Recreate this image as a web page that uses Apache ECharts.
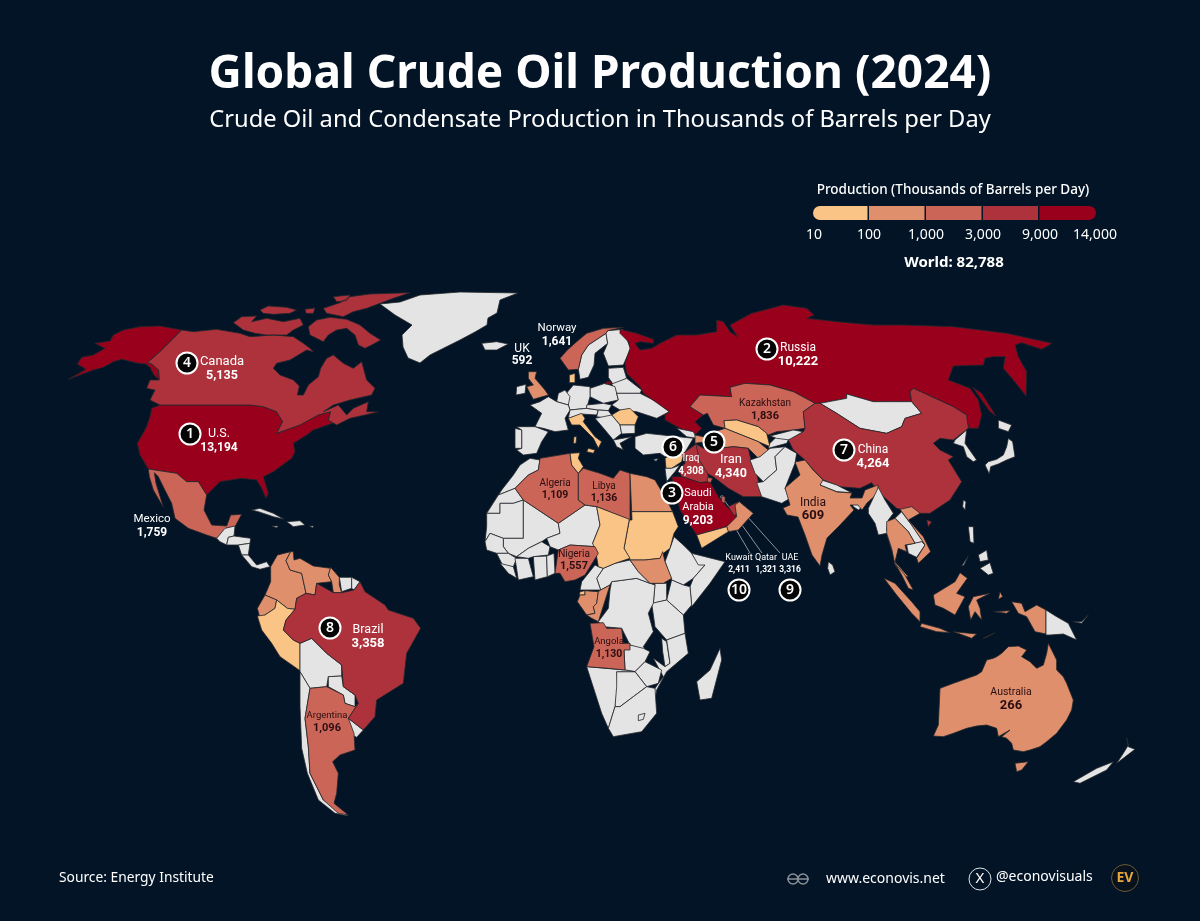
<!DOCTYPE html>
<html>
<head>
<meta charset="utf-8">
<style>html,body{margin:0;padding:0;background:#021426}#main{width:1200px;height:921px}</style>
<script src="https://cdn.jsdelivr.net/npm/echarts@6/dist/echarts.min.js"></script>
</head>
<body>
<div id="main"></div>
<script>
// production figures, thousands of barrels per day
var labelledNames = ['United States','Russia','Saudi Arabia','Canada','Iran','Iraq','China','Brazil','UAE','Kuwait','Kazakhstan','Mexico','Norway','Nigeria','Qatar','Libya','Angola','Algeria','Argentina','India','UK','Australia'];
var labelledValues = [13194,10222,9203,5135,4340,4308,4264,3358,3316,2411,1836,1759,1641,1557,1321,1136,1130,1109,1096,609,592,266];
var labelledTexts = ['U.S.','Russia','Saudi\nArabia','Canada','Iran','Iraq','China','Brazil','UAE','Kuwait','Kazakhstan','Mexico','Norway','Nigeria','Qatar','Libya','Angola','Algeria','Argentina','India','UK','Australia'];
// not printed on the map, estimated from the colour class
var otherNames = ['Venezuela','Colombia','Ecuador','Guyana','Peru','Oman','Egypt','Azerbaijan','Turkmenistan','Indonesia','Malaysia','Thailand','Vietnam','South Sudan','Congo','Gabon','Equatorial Guinea','Uzbekistan','Chad','Sudan','Tunisia','Italy','Romania','Denmark','Yemen','Syria'];
var otherValues = [800,770,470,600,90,990,560,580,220,560,500,200,180,150,260,210,90,60,90,60,40,90,60,60,60,90];
var legendTicks = [10,100,1000,3000,9000,14000];
var legendColors = ['#f9c486','#e08f6c','#cb6558','#ae323c','#99001c'];
var worldTotal = 82788;
var darkLabels = ['Kazakhstan','Nigeria','Libya','Angola','Algeria','Argentina','India','Australia'];
var rankNumbers = [1,2,3,4,5,6,7,8,9,10];

// where the labels and rank badges sit, and how big their text is
var labelCenters = {'United States':[219,441],'Russia':[798,355],'Saudi Arabia':[698,507],'Canada':[222,369],'Iran':[731,467],'Iraq':[691,465],'China':[873,457],'Brazil':[368,637],'UAE':[790,564],'Kuwait':[739,564],'Kazakhstan':[765,410],'Mexico':[152,526],'Norway':[557,335],'Nigeria':[574,560],'Qatar':[766,564],'Libya':[604,492],'Angola':[609,648],'Algeria':[555,489],'Argentina':[327,722],'India':[813,509],'UK':[522,355],'Australia':[1011,699]};
var labelSizes = {'United States':[12.5,12,14],'Russia':[12,13,14],'Saudi Arabia':[11,12,14],'Canada':[13,12.5,14],'Iran':[13,12.5,14],'Iraq':[10,10,13],'China':[12,13,14],'Brazil':[12.5,13,14],'UAE':[9,8.5,12],'Kuwait':[9,8.5,12],'Kazakhstan':[10,11,13],'Mexico':[11.5,12,13],'Norway':[11.5,12,13],'Nigeria':[10,11,12],'Qatar':[9,8.5,12],'Libya':[10,10.5,12],'Angola':[9.5,10.5,12],'Algeria':[10,10.5,12],'Argentina':[9.5,11,13],'India':[12,13,13],'UK':[12,12,12],'Australia':[10.5,13,13]};
var badgeCenters = [[190,434],[767,349],[672,493],[187,363],[714,442],[673,447],[844,450],[330,628],[790,590],[739,590]];
var leaderLines = [[708,482,750,553],[722,497,762,553],[737,505,780,553]];

var shapes = {};
function trace(ox, oy, scale, block) {
    for (var name in block) {
        if (!shapes[name]) shapes[name] = [];
        block[name].forEach(function (ring) {
            var pts = ring.trim().split(/\s+/).map(function (p) {
                var xy = p.split(',');
                return [ox + xy[0] / scale, oy + xy[1] / scale];
            });
            pts.push(pts[0].slice());
            shapes[name].push([pts]);
        });
    }
}

// North America
trace(60, 280, 3, {
    'United States': [
        '365,150 300,138 240,140 190,150 160,165 150,183 105,190 135,205 100,225 65,232 52,252 78,268 25,298 100,270 130,262 160,245 185,238 235,250 258,252 270,262 282,285 298,300 296,270 275,252 262,248 300,215',
        '300,375 570,375 610,380 650,395 668,425 650,460 720,435 775,405 812,395 805,420 830,425 760,450 740,465 700,490 705,515 695,535 640,575 610,590 625,640 618,655 605,625 590,600 545,595 480,605 440,645 415,605 380,605 350,580 265,567 240,525 232,490 260,440 270,410 275,385'
    ],
    'Canada': [
        '365,150 400,155 470,148 540,160 570,170 640,165 700,170 730,190 750,205 760,215 740,210 690,240 650,250 640,265 660,285 700,300 718,318 712,345 730,345 745,315 775,290 782,265 800,235 820,225 850,250 880,265 905,245 920,300 945,325 935,345 870,360 820,375 790,395 835,375 860,405 880,385 925,365 920,395 955,395 915,405 870,415 830,435 805,420 812,395 775,405 720,435 650,460 668,425 650,395 610,380 570,375 300,375 270,360 285,330 260,325 270,300 298,300 296,270 275,252 262,248 300,215',
        '770,120 810,112 860,118 900,135 930,160 962,180 935,195 915,205 895,195 885,165 860,145 830,150 805,165 790,185 770,175 750,165 745,140',
        '520,128 545,110 590,108 575,125 620,115 670,125 720,115 730,135 700,150 680,165 620,165 585,160 550,150',
        '600,90 625,78 680,82 710,90 690,100 640,103 610,100',
        '735,88 765,84 760,100 738,100',
        '790,85 840,68 870,50 930,42 1050,38 1000,55 960,70 920,85 880,95 850,110 800,100',
        '820,50 870,45 860,62 830,65'
    ],
    'Mexico': ['265,567 350,580 380,605 415,605 440,645 432,690 455,735 500,738 512,705 545,703 525,740 498,745 470,775 440,765 385,745 345,715 335,670 312,625 295,590 283,578 288,610 310,682 280,630 268,590'],
    'Guatemala': ['470,775 495,745 525,738 522,768 505,772 500,795 480,785'],
    'Honduras': ['505,772 522,768 572,775 570,790 535,795 500,795'],
    'Nicaragua': ['535,795 570,790 565,825 545,825'],
    'Panama': ['545,825 565,825 590,855 620,845 630,860 600,868 575,860'],
    'Cuba': ['575,690 600,685 640,700 672,718 640,710 595,695'],
    'Hispaniola': ['680,725 720,722 735,735 700,740'],
    'Jamaica': ['635,738 655,738 650,743'],
    'Puerto Rico': ['748,738 762,738 758,743']
});
trace(0, 0, 1, {
    'Greenland': ['380,304 400,302 420,295 460,292 518,293 500,300 497,313 488,318 487,325 475,332 460,340 430,355 420,363 408,358 403,347 402,335 412,325 395,315']
});

// South America
trace(200, 540, 3, {
    'Colombia': ['272,35 232,45 212,80 212,125 195,165 230,180 262,205 285,208 290,175 318,160 305,100 270,90 258,62'],
    'Venezuela': ['272,35 258,62 270,90 305,100 318,160 345,165 350,130 395,125 385,105 392,85 340,78 300,55 282,60 280,35'],
    'Guyana': ['392,82 418,112 418,135 425,158 400,158 395,125 385,105'],
    'Suriname': ['418,112 455,112 455,145 425,155'],
    'French Guiana': ['455,112 480,125 462,150 455,145'],
    'Ecuador': ['195,165 230,180 225,205 195,225 180,235 172,205'],
    'Peru': ['172,228 195,225 225,205 230,180 262,205 285,208 258,240 250,270 280,300 300,310 300,392 240,350 215,310 185,270'],
    'Bolivia': ['300,310 335,295 380,340 425,375 425,408 385,410 380,440 330,445 300,395'],
    'Paraguay': ['385,410 425,408 430,440 465,465 465,500 435,490 430,465 385,440'],
    'Chile': ['300,395 330,445 315,535 325,620 330,700 370,780 445,828 405,820 355,780 322,700 305,625 300,500'],
    'Uruguay': ['445,535 490,570 470,592 445,580'],
    'Argentina': ['330,445 380,440 430,465 435,490 465,500 475,490 445,535 462,580 465,630 420,645 398,665 415,700 410,760 402,790 445,825 415,820 370,780 330,700 325,620 315,535'],
    'Brazil': ['285,208 290,175 318,160 345,165 350,130 400,158 425,158 462,150 480,125 495,155 555,195 565,210 640,235 662,265 620,340 610,430 530,480 525,530 490,570 445,535 475,490 465,465 430,440 425,375 380,340 335,295 300,310 280,300 250,270 258,240']
});

// Europe
trace(480, 290, 3, {
    'Iceland': ['5,160 50,155 85,162 50,180 15,180'],
    'Ireland': ['110,290 138,283 135,310 108,315'],
    'UK': ['145,245 170,245 165,265 195,300 205,315 160,328 150,310 140,290 160,285 145,265'],
    'Sweden': ['300,268 295,238 305,195 325,165 378,130 383,160 345,190 342,225 325,262'],
    'Finland': ['383,122 428,118 452,175 430,225 385,228 370,190 383,160 378,130'],
    'Norway': ['240,205 262,180 290,155 320,130 370,115 430,112 383,122 378,130 325,165 305,195 295,238 265,240'],
    'Denmark': ['268,255 285,250 285,278 268,278'],
    'Baltics': ['385,235 430,232 440,265 400,285 385,262'],
    'Belarus': ['395,282 440,265 485,300 480,310 425,310 410,310'],
    'Poland': ['330,295 375,280 405,290 415,330 370,340 330,320'],
    'Germany': ['280,285 330,290 330,320 320,355 270,360 255,315'],
    'Benelux': ['235,310 255,300 270,320 265,345 230,335'],
    'France': ['230,335 265,345 270,360 255,385 265,420 225,425 190,415 165,410 185,370 150,345 180,335 205,320'],
    'Spain': ['110,410 165,410 205,425 185,455 170,490 130,495 110,480 125,475 125,420'],
    'Portugal': ['105,415 125,420 125,475 105,475'],
    'Alps': ['270,360 320,355 355,360 350,375 305,372 265,385'],
    'Czechia': ['320,345 370,340 395,345 385,362 355,360 320,355'],
    'Hungary': ['355,360 385,362 395,375 380,385 350,380'],
    'Ukraine': ['410,310 480,310 530,335 568,365 530,385 500,375 470,365 420,360 395,345 415,330'],
    'Romania': ['395,375 420,360 450,355 475,380 465,405 420,405'],
    'Balkans': ['345,385 395,375 420,405 425,430 400,450 375,420'],
    'Bulgaria': ['420,405 465,405 465,430 425,432'],
    'Greece': ['400,450 455,440 420,460 430,480 410,470'],
    'Italy': [
        '265,385 305,370 315,385 310,395 345,440 365,455 355,475 340,445 300,405 275,405',
        '325,475 345,480 340,490 320,485',
        '282,440 290,440 288,460 280,460'
    ],
    'Russia': ['380,275 395,275 395,282 375,282'],
    'Turkey': ['465,440 500,430 640,445 610,495 555,500 540,490 490,495 465,475'],
    'Cyprus': ['520,508 535,506 528,514'],
    'Syria': ['555,505 580,490 610,495 605,515 575,535 558,535'],
    'Jordan': ['555,535 575,535 600,525 585,545 560,575'],
    'Georgia': ['590,415 640,425 650,445 620,440']
});

// Africa
trace(470, 450, 3, {
    'Morocco': ['180,25 210,30 205,60 175,75 135,115 85,135 50,190 95,120 130,75 150,45'],
    'Western Sahara': ['50,190 85,135 135,115 160,150 130,160 90,160 90,190'],
    'Mauritania': ['50,190 90,190 90,160 130,160 160,150 160,265 100,265 60,250 45,275 50,230'],
    'Mali': ['100,265 160,265 160,150 265,220 270,250 230,265 215,275 175,295 140,320 115,310 100,290'],
    'Niger': ['265,220 345,165 380,170 390,225 368,280 375,290 300,285 265,300 240,290 230,265 270,250'],
    'Senegal': ['45,275 60,250 100,265 100,290 115,310 80,310 50,300'],
    'Guinea': ['80,310 115,310 140,325 130,350 100,350'],
    'Liberia': ['90,340 130,350 140,385 115,370'],
    'Ivory Coast': ['135,325 175,325 190,380 145,390'],
    'Burkina Faso': ['140,320 175,295 215,275 240,290 235,315 190,320 175,325'],
    'Ghana': ['190,320 230,318 232,380 195,390'],
    'Benin': ['230,318 252,310 255,370 232,380'],
    'Ethiopia': ['600,295 612,260 640,285 665,310 685,340 705,345 670,385 640,405 605,390 585,335'],
    'Somalia': ['665,310 765,335 720,400 665,470 660,410 670,385 705,345 685,345'],
    'Kenya': ['605,390 640,405 660,410 665,465 640,495 590,450'],
    'Uganda': ['555,400 590,400 590,450 550,460'],
    'Tanzania': ['545,460 590,450 640,495 645,550 590,570 555,530'],
    'DR Congo': ['425,395 500,385 540,400 555,405 550,460 535,490 550,545 520,590 530,605 480,585 455,535 400,530 385,515 415,475 420,420'],
    'Central African Rep.': ['380,385 400,355 435,340 480,330 505,365 540,400 500,385 425,395 420,405 392,420'],
    'Cameroon': ['335,395 375,345 385,350 400,355 380,385 392,420 345,420 330,420'],
    'Zambia': ['462,600 480,585 520,595 540,605 525,635 495,665 465,660'],
    'Malawi': ['575,565 590,575 600,640 585,650 578,605'],
    'Mozambique': ['590,570 645,550 655,610 590,665 560,720 555,750 560,790 545,770 555,715 580,680 550,625 585,650 600,640'],
    'Zimbabwe': ['495,665 525,635 575,660 565,700 530,710'],
    'Botswana': ['440,665 495,665 530,710 490,740 450,770 435,770 435,710'],
    'Namibia': ['350,650 465,660 495,665 440,665 440,710 435,770 415,835 395,790'],
    'South Africa': ['415,835 435,770 450,770 490,740 530,710 555,715 560,790 515,845 430,860'],
    'Lesotho': ['505,795 525,790 520,808 505,812'],
    'Madagascar': ['750,595 755,630 725,745 690,750 680,695 720,660'],
    'Algeria': ['135,115 175,75 205,60 210,25 300,10 305,45 325,70 325,150 345,165 265,220 160,150'],
    'Tunisia': ['300,10 330,8 325,25 340,50 325,70 305,45'],
    'Libya': ['325,70 340,55 390,70 430,85 450,60 480,70 480,210 380,170 345,165 325,150'],
    'Egypt': ['480,70 530,80 555,90 590,150 608,185 485,185'],
    'Sudan': ['485,185 608,185 625,230 612,250 600,295 580,310 570,325 525,330 480,330 462,295 478,210 486,210'],
    'Chad': ['380,170 478,208 462,295 480,325 435,340 400,355 385,350 378,310 368,280 390,225'],
    'South Sudan': ['480,330 525,330 570,325 578,305 585,335 605,385 580,400 540,400 505,365'],
    'Nigeria': ['255,370 265,300 300,285 375,290 385,310 345,375 315,390 285,395 270,370'],
    'Equatorial Guinea': ['330,425 345,422 345,435 328,435'],
    'Gabon': ['322,455 330,435 345,435 345,422 385,425 380,460 370,470 375,490 350,495'],
    'Congo': ['385,425 392,420 420,405 385,515 365,505 350,495 375,490 370,470 380,460'],
    'Angola': ['360,520 400,518 410,535 455,535 460,580 480,580 480,600 462,600 465,660 415,655 350,650 372,590']
});

// Asia
trace(620, 300, 3, {
    'Russia': [
        '0,88 50,100 100,118 100,130 60,125 45,130 60,150 95,145 120,130 170,105 230,105 290,95 290,60 310,65 330,95 352,110 330,75 395,40 490,15 560,25 582,45 560,55 650,65 760,75 850,75 1000,80 1160,100 1296,130 1265,148 1205,128 1185,135 1195,170 1220,215 1218,288 1180,240 1150,205 1155,170 1120,170 1095,175 1090,195 1000,198 985,240 1050,265 1075,300 1085,345 1075,385 1045,385 1040,345 1000,320 880,265 870,275 875,305 815,305 760,305 680,282 680,295 600,310 585,310 520,275 450,255 375,250 330,262 335,290 240,285 210,320 250,345 225,365 245,385 225,405 180,385 135,360 135,345 148,335 70,280 60,260 20,220 15,190 30,145 25,125 0,100',
        '1058,262 1085,280 1128,348 1110,335'
    ],
    'Kazakhstan': ['210,320 240,285 335,290 330,262 375,250 450,255 520,275 585,310 550,335 555,385 520,390 470,395 445,405 415,380 350,360 312,362 315,385 280,375 262,340 250,345'],
    'Uzbekistan': ['312,362 350,360 415,380 440,400 450,440 415,425 340,395 315,385'],
    'Turkmenistan': ['285,395 315,385 340,395 415,425 445,450 415,475 385,445 340,440 300,445 285,420'],
    'Azerbaijan': ['225,405 250,410 255,425 225,430'],
    'Iran': ['225,430 250,445 280,445 300,445 340,440 385,445 395,490 410,520 425,590 370,590 325,565 280,530 260,520 235,480'],
    'Afghanistan': ['390,480 420,470 450,445 495,440 465,470 470,510 430,545 405,520'],
    'Pakistan': ['430,545 470,510 465,470 495,440 530,460 525,490 495,565 510,595 485,610 425,590 410,548'],
    'Tajikistan': ['450,430 470,410 510,410 500,430 445,445'],
    'Kyrgyzstan': ['450,408 520,390 550,395 510,420 470,415'],
    'Mongolia': ['600,310 680,295 680,282 760,305 815,305 875,305 905,340 855,355 845,380 800,400 720,385 650,340'],
    'Iraq': ['190,460 228,432 238,480 262,520 270,545 240,548 185,530 175,510 195,490'],
    'Saudi Arabia': ['155,530 185,530 240,548 270,545 295,590 325,625 355,655 320,680 230,705 180,630'],
    'Kuwait': ['262,532 278,535 272,548 262,545'],
    'Qatar': ['305,588 315,590 315,610 305,605'],
    'UAE': ['325,620 355,605 355,625 345,650'],
    'Oman': ['350,650 345,615 358,605 400,640 355,690 325,695 320,680'],
    'Yemen': ['230,705 320,680 325,695 245,745'],
    'China': [
        '585,310 600,310 650,340 720,385 800,400 845,380 855,355 905,340 875,305 870,275 880,265 1000,320 1040,345 1045,385 1000,420 960,415 940,430 960,450 1000,470 985,480 1025,545 990,600 930,640 890,640 830,625 775,575 755,548 720,565 660,560 610,540 580,510 555,480 520,450 505,420 550,395 555,385 550,335',
        '920,660 935,665 925,680'
    ],
    'Nepal': ['605,540 650,555 695,578 650,575 600,555'],
    'Bangladesh': ['690,595 720,595 735,615 715,630 700,620'],
    'Korea': ['1005,420 1040,390 1035,430 1070,480 1060,485 1040,470 1030,440 1000,430'],
    'Honshu': ['1095,495 1105,485 1130,478 1150,465 1160,440 1165,415 1178,425 1185,470 1160,480 1135,492 1112,500 1108,522'],
    'Hokkaido': ['1135,360 1175,375 1165,395 1135,385']
});
trace(0, 0, 1, {
    'India': ['795,462 805,460 813,470 823,480 820,485 837,492 852,493 850,498 862,498 865,490 878,485 878,493 867,503 862,510 858,505 850,505 854,510 840,525 827,538 822,555 820,566 812,555 805,535 798,517 787,515 783,508 790,505 788,498 785,488 800,475']
});

// South East Asia and Oceania
trace(780, 480, 3, {
    'Taiwan': ['550,60 558,65 555,90 548,80'],
    'Myanmar': ['265,85 295,22 315,60 340,100 325,120 320,150 335,180 345,225 335,210 320,160 295,165 285,130 265,100'],
    'Laos': ['345,115 365,95 395,135 430,185 405,190 385,155'],
    'Cambodia': ['380,195 425,185 435,195 410,232 385,220'],
    'Thailand': ['320,125 345,115 385,155 405,190 375,195 380,215 355,205 345,245 385,290 375,290 345,255 335,205 320,160'],
    'Vietnam': ['360,88 395,80 420,100 385,120 430,170 452,215 415,250 410,235 435,195 395,135'],
    'Malaysia': ['345,250 375,285 400,330 385,325 365,285'],
    'Indonesia': [
        '312,295 345,310 395,365 420,395 420,425 395,400 350,345',
        '425,430 480,445 510,458 470,455 420,440',
        '520,455 590,462 575,475 540,462',
        '610,475 645,458 620,472',
        '460,345 525,305 540,278 562,295 530,340 555,350 525,405 490,385 465,375',
        '580,350 630,340 590,360 600,385 605,420 585,395 572,420 565,380',
        '660,335 668,350 655,358',
        '640,395 690,392 680,400',
        '695,365 725,370 735,395 770,375 798,390 798,462 765,455 740,410 715,400'
    ],
    'Philippines': [
        '565,140 580,140 582,190 570,185',
        '600,265 630,248 640,280 625,285',
        '545,258 565,228 552,255',
        '595,225 620,210 625,240 600,245'
    ],
    'Papua New Guinea': [
        '798,390 830,410 865,430 890,480 850,462 810,465 798,465',
        '880,425 905,425 925,405 905,430'
    ],
    'Sri Lanka': ['145,245 158,255 165,275 150,285 143,265'],
    'Australia': [
        '460,768 475,735 480,625 520,610 590,585 605,575 620,540 640,535 650,530 665,520 685,500 715,498 740,510 725,530 750,545 770,565 790,555 800,520 805,490 820,520 830,540 830,570 850,590 860,610 880,660 875,690 860,720 830,760 800,785 780,800 750,810 730,815 700,810 695,790 680,775 665,770 690,750 655,770 650,745 620,735 590,738 560,745 520,760 490,770',
        '705,850 745,845 725,870 710,875'
    ],
    'New Zealand': [
        '1040,772 1045,800 1065,808 1010,850 1030,820 1045,795',
        '880,905 950,865 1000,845 980,870 900,910'
    ]
});

var minX = 1e9, minY = 1e9, maxX = -1e9, maxY = -1e9;
var features = [];
for (var name in shapes) {
    shapes[name].forEach(function (poly) {
        poly[0].forEach(function (p) {
            minX = Math.min(minX, p[0]); maxX = Math.max(maxX, p[0]);
            minY = Math.min(minY, p[1]); maxY = Math.max(maxY, p[1]);
        });
    });
    features.push({
        type: 'Feature',
        properties: { name: name, cp: labelCenters[name] },
        geometry: { type: 'MultiPolygon', coordinates: shapes[name] }
    });
}
echarts.registerMap('traced', { type: 'FeatureCollection', features: features });

var seriesData = [];
labelledNames.forEach(function (n, i) { seriesData.push({ name: n, value: labelledValues[i] }); });
otherNames.forEach(function (n, i) { seriesData.push({ name: n, value: otherValues[i] }); });

var pieces = legendColors.map(function (c, i) {
    return { gte: legendTicks[i], lt: legendTicks[i + 1], color: c };
});

var FONT = '"Noto Sans", sans-serif';
var NARROW = 'Roboto, "Noto Sans", sans-serif';
var graphics = [];

function addText(x, y, text, size, weight, color, family, align) {
    graphics.push({
        type: 'text', x: x, y: y, silent: true, z: 20,
        style: { text: text, fill: color || '#fff', font: (weight || 'normal') + ' ' + size + 'px ' + (family || FONT), align: align || 'center', verticalAlign: 'middle' }
    });
}

// legend bar
var barX = [813, 869, 926, 983, 1039.5, 1096];
legendColors.forEach(function (c, i) {
    graphics.push({
        type: 'rect', silent: true,
        shape: { x: barX[i], y: 206, width: barX[i + 1] - barX[i] - (i < 4 ? 1.5 : 0), height: 14, r: i == 0 ? [7, 0, 0, 7] : (i == 4 ? [0, 7, 7, 0] : 0) },
        style: { fill: c }
    });
});
var tickX = [814, 869, 926, 983, 1040, 1095];
legendTicks.forEach(function (t, i) {
    addText(tickX[i], 235, t.toLocaleString('en-US'), 14, 'normal', '#fff', FONT);
});
addText(953, 190, 'Production (Thousands of Barrels per Day)', 13.5, '500', '#fff');
addText(954, 263, 'World: ' + worldTotal.toLocaleString('en-US'), 15, 'bold', '#fff');

// gulf leader lines
leaderLines.forEach(function (l) {
    graphics.push({ type: 'line', silent: true, shape: { x1: l[0], y1: l[1], x2: l[2], y2: l[3] }, style: { stroke: '#8d939b', lineWidth: 1 } });
    graphics.push({ type: 'circle', silent: true, shape: { cx: l[0], cy: l[1], r: 1.8 }, style: { fill: '#8d939b' } });
});

// rank badges
rankNumbers.forEach(function (r, i) {
    var c = badgeCenters[i];
    graphics.push({ type: 'circle', silent: true, z: 19, shape: { cx: c[0], cy: c[1], r: 10.5 }, style: { fill: '#050505', stroke: '#fff', lineWidth: 2 } });
    addText(c[0], c[1] + 0.5, String(r), 14, '600', '#fff');
});

// footer
addText(59, 878, 'Source: Energy Institute', 13.8, 'normal', '#fff', FONT, 'left');
addText(826, 879, 'www.econovis.net', 14, 'normal', '#fff', FONT, 'left');
addText(996, 877, '@econovisuals', 14, 'normal', '#fff', FONT, 'left');
[[793, 879], [803, 879]].forEach(function (c) {
    graphics.push({ type: 'circle', silent: true, shape: { cx: c[0], cy: c[1], r: 5 }, style: { fill: 'none', stroke: '#8b9097', lineWidth: 1.5 } });
});
graphics.push({ type: 'line', silent: true, shape: { x1: 787, y1: 879, x2: 809, y2: 879 }, style: { stroke: '#8b9097', lineWidth: 1.5 } });
graphics.push({ type: 'circle', silent: true, shape: { cx: 980, cy: 879, r: 11 }, style: { fill: 'none', stroke: '#dfe3e6', lineWidth: 1 } });
addText(980, 879, 'X', 15, 'normal', '#fff');
graphics.push({ type: 'circle', silent: true, shape: { cx: 1125, cy: 878, r: 13.5 }, style: { fill: '#08121c', stroke: '#6a5a35', lineWidth: 1 } });
addText(1125, 878, 'EV', 14, 'bold', '#e8a63c');

// one pair of rich styles per label, sized to fit its country
var labelRich = {};
labelledNames.forEach(function (n, i) {
    var color = darkLabels.indexOf(n) >= 0 ? '#2b0d10' : '#fff';
    var s = labelSizes[n];
    labelRich['n' + i] = { color: color, fontFamily: NARROW, fontSize: s[0], lineHeight: s[2] };
    labelRich['v' + i] = { color: color, fontFamily: NARROW, fontSize: s[1], fontWeight: 'bold', lineHeight: s[2] };
});

var chart = echarts.init(document.getElementById('main'));
chart.setOption({
    backgroundColor: '#021426',
    animation: false,
    title: [
        { text: 'Global Crude Oil Production (2024)', left: 'center', top: 39, textStyle: { color: '#fff', fontFamily: FONT, fontWeight: 'bold', fontSize: 46, lineHeight: 62 } },
        { text: 'Crude Oil and Condensate Production in Thousands of Barrels per Day', left: 'center', top: 99, textStyle: { color: '#fff', fontFamily: FONT, fontWeight: 'normal', fontSize: 23.7, lineHeight: 32 } }
    ],
    visualMap: { type: 'piecewise', show: false, pieces: pieces, seriesIndex: 0 },
    graphic: graphics,
    series: [{
        type: 'map',
        map: 'traced',
        silent: true,
        selectedMode: false,
        // outlines are already in picture pixels, so no projection is applied
        projection: { project: function (p) { return [p[0], p[1]]; }, unproject: function (p) { return [p[0], p[1]]; } },
        left: minX,
        top: minY,
        width: maxX - minX,
        height: maxY - minY,
        itemStyle: { areaColor: '#e4e4e4', borderColor: '#24272c', borderWidth: 0.8 },
        label: {
            show: true,
            formatter: function (p) {
                var i = labelledNames.indexOf(p.name);
                if (i < 0) return '';
                return labelledTexts[i].split('\n').map(function (t) { return '{n' + i + '|' + t + '}'; }).join('\n')
                    + '\n{v' + i + '|' + labelledValues[i].toLocaleString('en-US') + '}';
            },
            rich: labelRich
        },
        data: seriesData
    }]
});
</script>
</body>
</html>
